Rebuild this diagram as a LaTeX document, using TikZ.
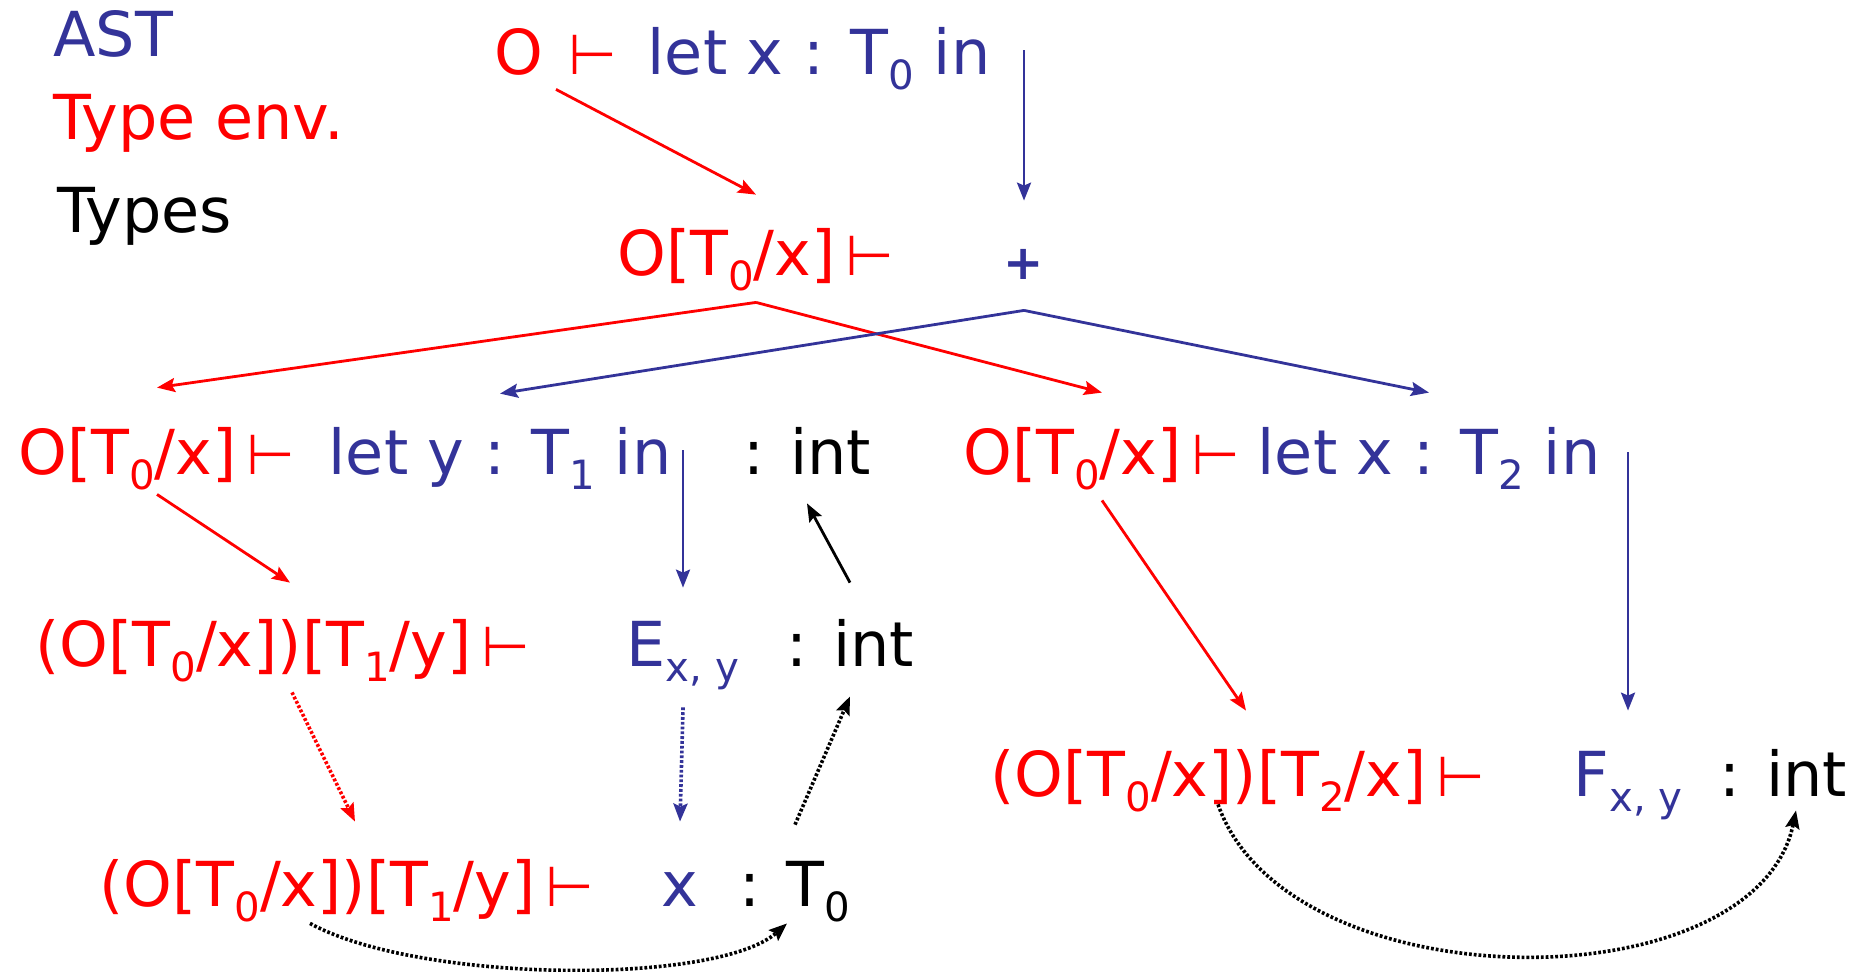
\documentclass[tikz,border=0pt]{standalone}
\usepackage{fontspec}
\setmainfont{DejaVu Sans}
\usepackage{graphicx}
\usetikzlibrary{arrows.meta,positioning}

\definecolor{envred}{RGB}{255,0,0}
\definecolor{astblue}{RGB}{51,51,153}
\newcommand{\sub}[1]{\raisebox{-0.25em}{\scalebox{0.65}{#1}}}
\newcommand{\tp}{{\fontsize{28}{32}\selectfont ⊢}}

\begin{document}
\begin{tikzpicture}[
  x=0.5pt, y=-0.5pt,
  lbl/.style={inner sep=0pt, text height=21pt, text depth=0pt,
              font=\fontsize{31}{36}\selectfont},
  env/.style={lbl, text=envred},
  ast/.style={lbl, text=astblue},
  ty/.style={lbl, text=black},
  arr/.style={-{Stealth[length=9pt, width=7pt, inset=1.5pt]}, line width=1.4pt},
  envarr/.style={arr, draw=envred},
  astarr/.style={arr, draw=astblue},
  tyarr/.style={arr, draw=black},
  dots/.style={densely dotted, line width=1.8pt}
]
\useasboundingbox (0,0) rectangle (1855,971);

% legend
\node[ast, anchor=west] (keyast) at (53,35) {AST};
\node[env, anchor=west] (keyenv) at (53,118) {Type env.};
\node[ty, anchor=west] (keyty) at (57,211) {Types};

% root and its body
\node[env] (env0) at (556,53) {O\hspace{0.4em}\tp};
\node[ast] (ast0) at (819,53) {let x : T\sub{0} in};
\node[env] (env1) at (756,254) {O[T\sub{0}/x]\,\tp};
\node[ast] (plus) at (1024,258) {\fontsize{24}{28}\selectfont\bfseries +};

% operands of +
\node[env] (envL) at (157,453) {O[T\sub{0}/x]\,\tp};
\node[ast] (astL) at (500,453) {let y : T\sub{1} in};
\node[ty] (intL) at (807,453) {: int};
\node[env] (envR) at (1102,453) {O[T\sub{0}/x]\,\tp};
\node[ast] (astR) at (1429,453) {let x : T\sub{2} in};

\node[env] (envE) at (283,645) {(O[T\sub{0}/x])[T\sub{1}/y]\,\tp};
\node[ast] (astE) at (683,645) {E\sub{x, y}};
\node[ty] (intE) at (850,645) {: int};

\node[env] (envX) at (347,885) {(O[T\sub{0}/x])[T\sub{1}/y]\,\tp};
\node[ast] (astX) at (680,885) {x};
\node[ty] (tyX) at (795,885) {: T\sub{0}};

\node[env] (envF) at (1238,775) {(O[T\sub{0}/x])[T\sub{2}/x]\,\tp};
\node[ast] (astF) at (1628,775) {F\sub{x, y}};
\node[ty] (intF) at (1783,775) {: int};

\coordinate (body0) at (plus.north |- ast0.east);
\coordinate (bodyL) at (astE.north |- astL.east);
\coordinate (bodyR) at (astF.north |- astR.east);

% tree edges
\draw[envarr] ([yshift=-7.5pt]env0.south) -- ([yshift=19pt]env1.north);
\draw[astarr] ([yshift=1.5pt]body0) -- ([yshift=18pt]plus.north);
\draw[envarr] ([yshift=-13.5pt]env1.south) -- ([yshift=22pt]envL.north);
\draw[envarr] ([yshift=-13.5pt]env1.south) -- ([yshift=19.5pt]envR.north);
\draw[astarr] ([yshift=-15.5pt]plus.south) -- ([yshift=19pt]astL.north);
\draw[astarr] ([yshift=-15.5pt]plus.south) -- ([yshift=19.5pt]astR.north);
\draw[astarr] ([yshift=1.5pt]bodyL) -- ([yshift=18pt]astE.north);
\draw[tyarr] ([yshift=20.5pt]intE.north) -- ([yshift=-14.5pt]intL.south);
\draw[envarr] ([yshift=-10pt]envL.south) -- ([xshift=3.5pt,yshift=20.5pt]envE.north);
\draw[envarr] ([yshift=-13pt]envR.south) -- ([xshift=4pt,yshift=21.5pt]envF.north);
\draw[astarr] ([yshift=0.5pt]bodyR) -- ([yshift=21.5pt]astF.north);

% lookup of x
\draw[envarr, dots] ([xshift=4.5pt,yshift=-13pt]envE.south) -- ([xshift=4pt,yshift=21pt]envX.north);
\draw[astarr, dots] ([yshift=-20.5pt]astE.south) -- ([yshift=21pt]astX.north);
\draw[tyarr, dots] ([yshift=19.5pt]tyX.north) -- ([yshift=-15pt]intE.south);
\draw[tyarr, dots] ([xshift=-18.5pt,yshift=-8.5pt]envX.south)
  .. controls +(110,60) and +(-70,62) .. ([xshift=-4pt,yshift=-8.5pt]tyX.south);
\draw[tyarr, dots] ([xshift=-10pt,yshift=-4pt]envF.south)
  .. controls +(70,200) and +(-40,195) .. ([xshift=6.5pt,yshift=-7pt]intF.south);
\end{tikzpicture}
\end{document}
